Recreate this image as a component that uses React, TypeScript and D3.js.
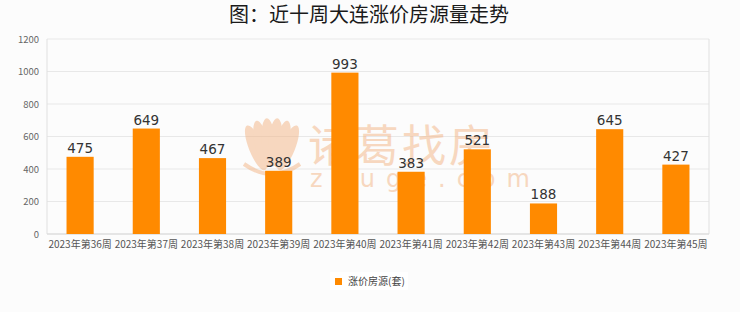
import React from "react";
import * as d3 from "d3";

const categories = ["2023年第36周","2023年第37周","2023年第38周","2023年第39周","2023年第40周","2023年第41周","2023年第42周","2023年第43周","2023年第44周","2023年第45周"];
const values = [475, 649, 467, 389, 993, 383, 521, 188, 645, 427];
const yTicks = [0, 200, 400, 600, 800, 1000, 1200];
const seriesName = "涨价房源(套)";
const title = "图：近十周大连涨价房源量走势";

const W = 740, H = 312;
const M = { left: 47, right: 31, top: 39, bottom: 78 };
const font = "'Noto Sans CJK SC', 'DejaVu Sans', sans-serif";

export default function App() {
  const x = d3.scaleBand().domain(categories).range([M.left, W - M.right]).paddingInner(0.59).paddingOuter(0.295);
  const y = d3.scaleLinear().domain([0, 1200]).range([H - M.bottom, M.top]);
  const step = x.step();
  const petals = [-40, -24, -8, 8, 24, 40];
  return (
    <svg width={W} height={H} style={{ position: "absolute", left: 0, top: 0, background: "#fcfcfc" }} fontFamily={font}>
      <rect x={0} y={0} width={W} height={H} fill="#fcfcfc" />
      <text x={369} y={22} textAnchor="middle" fontSize={20} fill="#1a1a1a" fontWeight={400}>{title}</text>
      {yTicks.map(t => (
        <g key={t}>
          <line x1={M.left} x2={W - M.right} y1={y(t)} y2={y(t)} stroke="#e8e8e8" strokeWidth={1} />
          <text x={39} y={y(t) + 3.5} textAnchor="end" fontSize={9.5} fill="#666">{t}</text>
        </g>
      ))}
      <line x1={M.left} x2={M.left} y1={M.top} y2={y(0)} stroke="#e0e0e0" />
      <line x1={W - M.right} x2={W - M.right} y1={M.top} y2={y(0)} stroke="#e0e0e0" />
      <line x1={M.left} x2={W - M.right} y1={y(0)} y2={y(0)} stroke="#d8d8d8" />
      {/* watermark */}
      <g opacity={0.5} fill="#f3b483">
        <g transform="translate(272,150)">
          {petals.map((a, i) => (
            <ellipse key={i} cx={0} cy={-8} rx={7} ry={24} transform={`rotate(${a * 0.55}) translate(${a * 0.35},0)`} />
          ))}
          <path d="M-28,14 Q0,34 28,14" fill="none" stroke="#f3b483" strokeWidth={4} />
        </g>
        <text x={308} y={162} fontSize={44} fontFamily={font} letterSpacing={3}>诸葛找房</text>
        <text x={310} y={187} fontSize={24} fontFamily="'DejaVu Sans', sans-serif" letterSpacing={11}>zhuge.com</text>
      </g>
      {values.map((v, i) => {
        const cx = x(categories[i])! + x.bandwidth() / 2;
        return (
          <g key={i}>
            <rect x={x(categories[i])!} y={y(v)} width={x.bandwidth()} height={y(0) - y(v)} fill="#ff8a00" />
            <text x={cx} y={y(v) - 4} textAnchor="middle" fontSize={13.5} fill="#333" fontFamily="'DejaVu Sans', sans-serif">{v}</text>
            <text x={M.left + step * (i + 0.5)} y={248} textAnchor="middle" fontSize={10} fill="#555">{categories[i]}</text>
          </g>
        );
      })}
      <rect x={330} y={272} width={78} height={18} fill="#ffffff" />
      <rect x={335} y={278} width={7} height={7} fill="#ff8a00" />
      <text x={348} y={285} fontSize={10} fill="#444">{seriesName}</text>
    </svg>
  );
}
